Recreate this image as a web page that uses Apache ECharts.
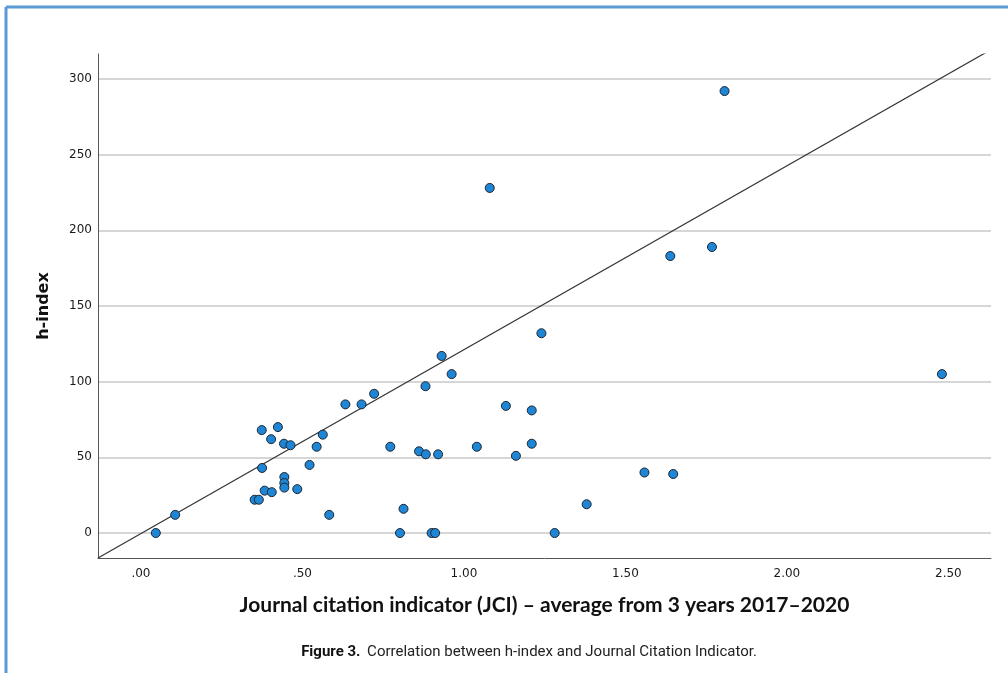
<!DOCTYPE html>
<html>
<head>
<meta charset="utf-8">
<script src="https://cdn.jsdelivr.net/npm/echarts@6/dist/echarts.min.js"></script>
<style>
html,body{margin:0;padding:0;background:#fff;}
#chart{width:1008px;height:673px;}
</style>
</head>
<body>
<div id="chart"></div>
<script>
// Journal Citation Indicator (x) and h-index (y)
const jci = [0.046, 0.106, 0.352, 0.365, 0.374, 0.375, 0.383, 0.403, 0.405, 0.424,
             0.443, 0.444, 0.444, 0.444, 0.463, 0.484, 0.522, 0.544, 0.563, 0.583,
             0.633, 0.683, 0.722, 0.772, 0.802, 0.813, 0.861, 0.881, 0.882, 0.900,
             0.911, 0.920, 0.931, 0.962, 1.040, 1.080, 1.130, 1.161, 1.210, 1.210,
             1.240, 1.281, 1.380, 1.559, 1.639, 1.648, 1.768, 1.807, 2.480];
const hIndex = [0, 12, 22, 22, 68, 43, 28, 62, 27, 70,
                59, 37, 33, 30, 58, 29, 45, 57, 65, 12,
                85, 85, 92, 57, 0, 16, 54, 97, 52, 0,
                0, 52, 117, 105, 57, 228, 84, 51, 81, 59,
                132, 0, 19, 40, 183, 39, 189, 292, 105];
const xTicks = [0, 0.5, 1, 1.5, 2, 2.5];
const yTicks = [0, 50, 100, 150, 200, 250, 300];
const xMin = -0.133, xMax = 2.632;
const yMin = -16.5, yMax = 316.5;
// reference (fit) line
const fitSlope = 121.5, fitIntercept = -0.4;

const xTitle = 'Journal citation indicator (JCI) – average from 3 years 2017–2020';
const yTitle = 'h-index';
const captionBold = 'Figure 3.';
const captionText = 'Correlation between h-index and Journal Citation Indicator.';

const points = jci.map((x, i) => [x, hIndex[i]]);
const fitLine = [xMin, xMax].map(x => [x, fitIntercept + fitSlope * x]);

function fmtX(v) {
  const s = v.toFixed(2);
  return v < 1 ? s.replace(/^0/, '') : s;
}

const chart = echarts.init(document.getElementById('chart'), null, {renderer: 'canvas'});
chart.setOption({
  backgroundColor: '#ffffff',
  animation: false,
  grid: {left: 98, right: 17, top: 54, bottom: 115, containLabel: false},
  xAxis: {
    type: 'value', min: xMin, max: xMax,
    name: xTitle, nameLocation: 'middle', nameGap: 37,
    nameTextStyle: {fontFamily: 'Lato', fontWeight: 'bold', fontSize: 21, color: '#111'},
    axisLine: {show: true, onZero: false, lineStyle: {color: '#555', width: 1}},
    axisTick: {show: false, customValues: xTicks},
    splitLine: {show: false},
    axisLabel: {customValues: xTicks, formatter: fmtX, margin: 10,
      fontFamily: 'DejaVu Sans', fontSize: 12, color: '#1a1a1a'}
  },
  yAxis: {
    type: 'value', min: yMin, max: yMax,
    name: yTitle, nameLocation: 'middle', nameGap: 46, nameRotate: 90,
    nameTextStyle: {fontFamily: 'DejaVu Sans', fontWeight: 'bold', fontSize: 16, color: '#111'},
    axisLine: {show: true, onZero: false, lineStyle: {color: '#555', width: 1}},
    axisTick: {show: false, customValues: yTicks},
    splitLine: {show: true, customValues: yTicks, lineStyle: {color: '#c8c8c8', width: 1.5}},
    axisLabel: {customValues: yTicks, margin: 6,
      fontFamily: 'DejaVu Sans', fontSize: 12, color: '#1a1a1a'}
  },
  series: [
    {
      type: 'line', data: fitLine, symbol: 'none', clip: true, silent: true,
      lineStyle: {color: '#333', width: 1.2}, z: 2
    },
    {
      type: 'scatter', data: points, symbol: 'circle', symbolSize: 9,
      itemStyle: {color: '#1f86d6', borderColor: '#1b2633', borderWidth: 1, opacity: 1},
      z: 3
    }
  ],
  graphic: [
    {type: 'line', shape: {x1: 6, y1: 7, x2: 1008, y2: 7}, style: {stroke: '#5b9bd5', lineWidth: 3}},
    {type: 'line', shape: {x1: 6, y1: 7, x2: 6, y2: 673}, style: {stroke: '#5b9bd5', lineWidth: 3}},
    {
      type: 'text', x: 529, y: 652,
      style: {
        text: '{b|' + captionBold + '}  {r|' + captionText + '}',
        align: 'center', verticalAlign: 'middle',
        rich: {
          b: {fontFamily: "'Liberation Sans Narrow','Roboto',sans-serif", fontWeight: 'bold', fontSize: 15, fill: '#111'},
          r: {fontFamily: "'Liberation Sans Narrow','Roboto',sans-serif", fontSize: 15, fill: '#222'}
        }
      }
    }
  ]
});
</script>
</body>
</html>
